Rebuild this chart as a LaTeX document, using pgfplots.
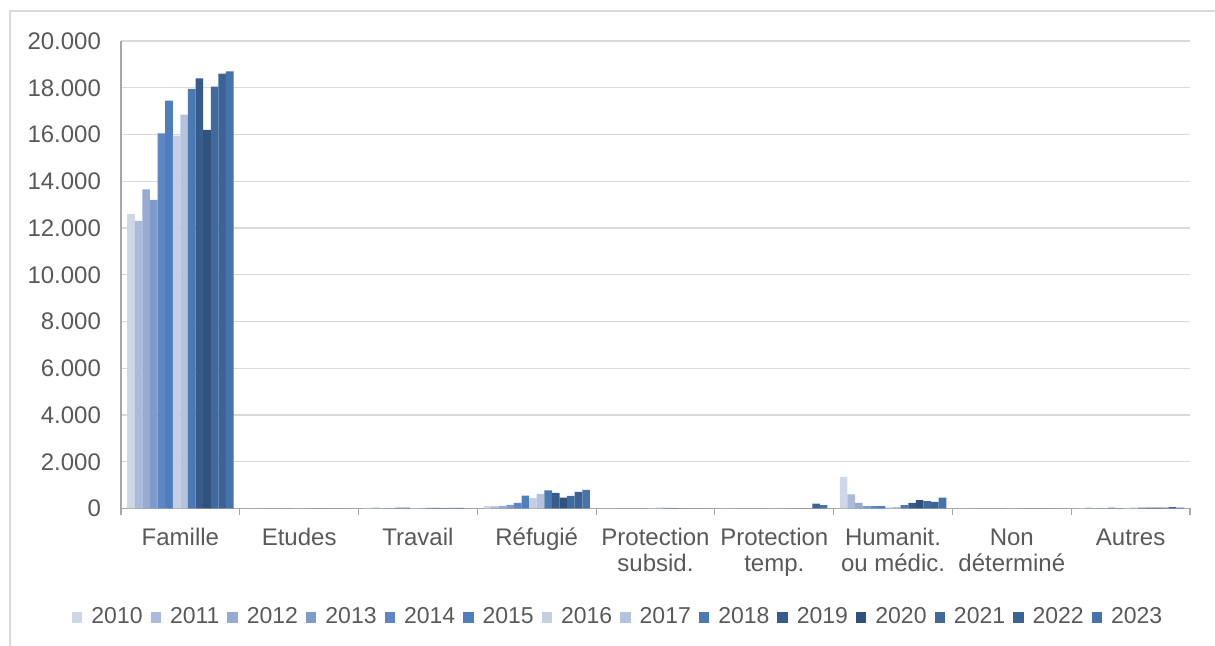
\documentclass[border=0pt]{standalone}
\usepackage{fontspec}
\setmainfont{Liberation Sans}
\usepackage{pgfplots}
\usepackage{pgfplotstable}
\pgfplotsset{compat=1.18}

\definecolor{c2010}{HTML}{CFD7E7}
\definecolor{c2011}{HTML}{A9BADA}
\definecolor{c2012}{HTML}{97ABD1}
\definecolor{c2013}{HTML}{7F9BC9}
\definecolor{c2014}{HTML}{5E86C3}
\definecolor{c2015}{HTML}{4F7EBC}
\definecolor{c2016}{HTML}{C5CFE3}
\definecolor{c2017}{HTML}{B3C3DE}
\definecolor{c2018}{HTML}{4A79B3}
\definecolor{c2019}{HTML}{375B8A}
\definecolor{c2020}{HTML}{30527F}
\definecolor{c2021}{HTML}{40699E}
\definecolor{c2022}{HTML}{3B6397}
\definecolor{c2023}{HTML}{4673A8}
\definecolor{txt}{HTML}{595959}
\definecolor{gridc}{HTML}{D9D9D9}
\definecolor{axc}{HTML}{A6A6A6}

% two-line tick label, baseline on the first line
\newcommand{\two}[2]{\begin{tabular}[t]{@{}c@{}}#1\\#2\end{tabular}}

% rows: 0 Famille, 1 Etudes, 2 Travail, 3 Refugie, 4 Prot. subsid., 5 Prot. temp.,
%       6 Humanit., 7 Non determine, 8 Autres
\pgfplotstableread{
cat y2010 y2011 y2012 y2013 y2014 y2015 y2016 y2017 y2018 y2019 y2020 y2021 y2022 y2023
0 12600 12300 13650 13200 16050 17450 15950 16850 17950 18400 16200 18050 18600 18700
1 3 4 3 3 4 4 5 5 4 4 3 4 5 5
2 30 40 20 20 40 40 20 30 30 30 20 30 30 10
3 100 90 110 160 240 555 440 630 770 670 470 540 710 800
4 5 5 5 5 5 5 20 40 30 20 10 5 5 5
5 0 0 0 0 0 0 0 0 0 0 0 0 210 140
6 1350 600 240 100 100 100 50 60 140 240 360 310 285 470
7 3 3 3 3 3 3 3 3 3 3 3 3 3 3
8 20 40 20 20 40 20 30 40 40 40 40 40 60 40
}\datatable

\begin{document}
\begin{tikzpicture}
\useasboundingbox (-60.5pt,-68.75pt) rectangle (547pt,254.25pt);
\draw[gridc, line width=0.6pt] (-55.5pt,-68.75pt) -- (-55.5pt,248.75pt) -- (547pt,248.75pt);
\begin{axis}[
    at={(0pt,0pt)}, anchor=south west,
    scale only axis,
    width=534.5pt, height=233.75pt,
    ybar=0pt, bar width=3.8pt,
    xmin=-0.5, xmax=8.5,
    ymin=0, ymax=20000,
    xtick={0,...,8},
    xticklabels={Famille, Etudes, Travail, Réfugié, {\two{Protection}{subsid.}}, {\two{Protection}{temp.}}, {\two{Humanit.}{ou médic.}}, {\two{Non}{déterminé}}, Autres},
    minor xtick={-0.5,0.5,...,8.5},
    ytick={0,2000,...,20000},
    scaled y ticks=false,
    /pgf/number format/1000 sep={.},
    /pgf/number format/assume math mode=true,
    major tick length=0pt,
    minor tick length=3.5pt,
    tick align=outside,
    axis x line*=bottom, axis y line*=left,
    axis line style={axc, line width=0.6pt},
    minor tick style={axc, line width=0.6pt},
    ymajorgrids, grid style={gridc, line width=0.6pt},
    tick label style={font=\fontsize{12}{13}\selectfont, text=txt},
    xticklabel style={anchor=base, yshift=-18.75pt},
    yticklabel style={anchor=east, xshift=-6.5pt},
    legend style={at={(axis description cs:0.466,-0.233)}, anchor=center,
        legend columns=-1, draw=none, fill=none,
        font=\fontsize{11.5}{13}\selectfont, text=txt,
        /tikz/every even column/.append style={column sep=2pt},
        /tikz/every odd column/.append style={column sep=2.5pt}},
    legend image code/.code={\fill[#1] (0pt,-2.6pt) rectangle (5.2pt,2.6pt);},
    every axis plot/.append style={draw=none},
]
\addplot[fill=c2010] table[x=cat, y=y2010] {\datatable}; \addlegendentry{2010}
\addplot[fill=c2011] table[x=cat, y=y2011] {\datatable}; \addlegendentry{2011}
\addplot[fill=c2012] table[x=cat, y=y2012] {\datatable}; \addlegendentry{2012}
\addplot[fill=c2013] table[x=cat, y=y2013] {\datatable}; \addlegendentry{2013}
\addplot[fill=c2014] table[x=cat, y=y2014] {\datatable}; \addlegendentry{2014}
\addplot[fill=c2015] table[x=cat, y=y2015] {\datatable}; \addlegendentry{2015}
\addplot[fill=c2016] table[x=cat, y=y2016] {\datatable}; \addlegendentry{2016}
\addplot[fill=c2017] table[x=cat, y=y2017] {\datatable}; \addlegendentry{2017}
\addplot[fill=c2018] table[x=cat, y=y2018] {\datatable}; \addlegendentry{2018}
\addplot[fill=c2019] table[x=cat, y=y2019] {\datatable}; \addlegendentry{2019}
\addplot[fill=c2020] table[x=cat, y=y2020] {\datatable}; \addlegendentry{2020}
\addplot[fill=c2021] table[x=cat, y=y2021] {\datatable}; \addlegendentry{2021}
\addplot[fill=c2022] table[x=cat, y=y2022] {\datatable}; \addlegendentry{2022}
\addplot[fill=c2023] table[x=cat, y=y2023] {\datatable}; \addlegendentry{2023}
\end{axis}
\end{tikzpicture}
\end{document}
